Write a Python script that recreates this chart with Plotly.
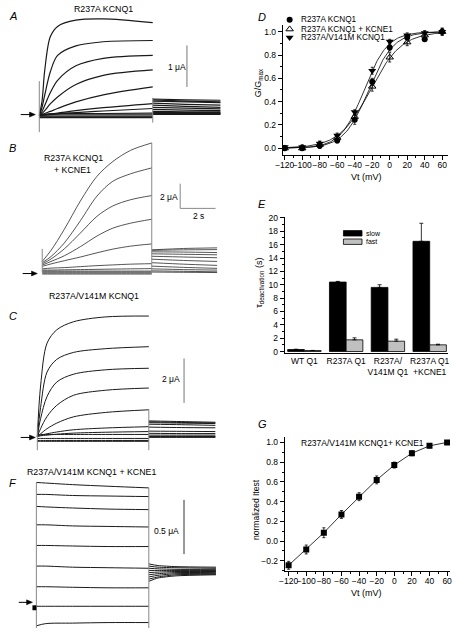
import numpy as np
import plotly.graph_objects as go

W, H = 453, 632
FONT = "Liberation Sans, Arial, Helvetica, sans-serif"

# ================= DATA =================
T_END = 6.2      # test pulse end (s)
T_TAIL = 9.9     # tail end (s)

# --- Panel A: R237A KCNQ1 (uA) ---
A_t = [0, 0.15, 0.3, 0.6, 1.0, 2.0, 3.5, 6.2]
A_I = [
    [0, 0.35, 1.10, 1.90, 2.15, 2.30, 2.33, 2.24],
    [0, 0.20, 0.50, 1.05, 1.45, 1.68, 1.78, 1.81],
    [0, 0.10, 0.25, 0.55, 0.85, 1.20, 1.38, 1.45],
    [0, 0.05, 0.12, 0.28, 0.45, 0.75, 0.97, 1.10],
    [0, 0.02, 0.05, 0.10, 0.17, 0.33, 0.50, 0.69],
    [0, 0.01, 0.02, 0.04, 0.06, 0.12, 0.19, 0.29],
    [0, 0.01, 0.01, 0.02, 0.04, 0.07, 0.11, 0.17],
    [0, 0.02, 0.03, 0.04, 0.05, 0.05, 0.05, 0.06],
    [0.02, 0.02, 0.02, 0.02, 0.02, 0.02, 0.02, 0.02],
    [-0.01, -0.01, -0.01, -0.01, -0.01, -0.01, -0.01, -0.01],
    [-0.03, -0.03, -0.03, -0.03, -0.03, -0.03, -0.03, -0.03],
    [-0.05, -0.05, -0.05, -0.05, -0.05, -0.05, -0.05, -0.05],
]
A_tail_t = [6.2, 8.0, 9.9]
A_tail_I = [
    [0.40, 0.38, 0.37], [0.38, 0.35, 0.33], [0.35, 0.33, 0.31],
    [0.30, 0.27, 0.25], [0.25, 0.22, 0.20], [0.20, 0.18, 0.16],
    [0.15, 0.13, 0.12], [0.10, 0.09, 0.09], [0.07, 0.07, 0.07],
    [0.05, 0.05, 0.05], [0.04, 0.04, 0.04], [0.03, 0.03, 0.03],
]
A_trans = [[0, 0.83, -0.40], [6.2, 0.43, -0.17]]   # (time, top, bottom)

# --- Panel B: R237A KCNQ1 + KCNE1 (uA) ---
B_t = [0, 0.5, 1.25, 2.16, 3.1, 4.0, 5.0, 6.2]
B_I = [
    [0.9, 1.8, 3.5, 5.8, 7.8, 9.0, 9.9, 10.5],
    [0.8, 1.3, 2.4, 4.2, 6.2, 7.4, 8.0, 8.48],
    [0.7, 1.1, 1.92, 3.2, 4.56, 5.4, 5.9, 6.24],
    [0.6, 0.9, 1.36, 2.1, 2.96, 3.6, 4.0, 4.32],
    [0.5, 0.7, 0.96, 1.26, 1.6, 1.9, 2.14, 2.32],
    [0.3, 0.36, 0.4, 0.48, 0.56, 0.62, 0.68, 0.72],
    [0.2, 0.2, 0.22, 0.24, 0.26, 0.28, 0.3, 0.32],
    [0.12, 0.12, 0.12, 0.12, 0.12, 0.12, 0.12, 0.12],
    [0.04, 0.04, 0.04, 0.04, 0.04, 0.04, 0.04, 0.04],
    [-0.04, -0.04, -0.04, -0.04, -0.04, -0.04, -0.04, -0.04],
    [-0.12, -0.12, -0.12, -0.12, -0.12, -0.12, -0.12, -0.12],
]
B_tail_t = [6.2, 8.0, 9.9]
B_tail_I = [
    [1.84, 1.95, 2.0], [1.8, 1.84, 1.86], [1.68, 1.66, 1.62],
    [1.52, 1.48, 1.44], [1.32, 1.26, 1.2], [1.08, 0.98, 0.9],
    [0.8, 0.68, 0.58], [0.52, 0.42, 0.34], [0.3, 0.24, 0.2],
    [0.14, 0.1, 0.06], [0.04, 0.02, 0.0],
]
B_trans = [[0, 1.92, 0.0], [6.2, 10.5, 0.0]]

# --- Panel C: R237A/V141M KCNQ1 (uA) ---
C_t = [0, 0.18, 0.54, 1.08, 2.0, 3.78, 6.2]
C_I = [
    [0, 2.27, 4.2, 4.8, 5.16, 5.38, 5.42],
    [0, 1.3, 2.9, 3.47, 3.78, 3.95, 4.04],
    [0, 0.8, 1.8, 2.45, 2.8, 3.0, 3.07],
    [0, 0.35, 0.9, 1.4, 1.85, 2.08, 2.18],
    [0, 0.12, 0.35, 0.6, 0.88, 1.08, 1.2],
    [0, 0.05, 0.12, 0.2, 0.3, 0.38, 0.44],
    [0, 0.03, 0.06, 0.1, 0.15, 0.19, 0.22],
    [0.09, 0.09, 0.09, 0.09, 0.09, 0.09, 0.09],
    [-0.09, -0.09, -0.09, -0.09, -0.09, -0.09, -0.09],
    [-0.18, -0.18, -0.18, -0.18, -0.18, -0.18, -0.18],
    [-0.22, -0.22, -0.22, -0.22, -0.22, -0.22, -0.22],
]
C_tail_t = [6.2, 8.0, 9.9]
C_tail_I = [
    [0.70, 0.67, 0.64], [0.66, 0.63, 0.61], [0.62, 0.60, 0.58],
    [0.55, 0.53, 0.50], [0.42, 0.40, 0.39], [0.24, 0.23, 0.22],
    [0.14, 0.13, 0.13], [0.06, 0.06, 0.06], [0.0, 0.0, 0.0],
    [-0.02, -0.02, -0.02], [-0.04, -0.04, -0.04],
]
C_trans = [[0, 0.44, -0.62], [6.2, 1.24, -0.62]]

# --- Panel F: R237A/V141M KCNQ1 + KCNE1 (uA) ---
F_t = [0, 0.5, 2.0, 4.0, 6.2]
F_I = [
    [1.14, 1.135, 1.12, 1.105, 1.09],
    [1.03, 1.03, 1.02, 1.015, 1.01],
    [0.92, 0.915, 0.905, 0.895, 0.89],
    [0.75, 0.75, 0.74, 0.735, 0.73],
    [0.56, 0.56, 0.555, 0.55, 0.55],
    [0.37, 0.37, 0.36, 0.355, 0.35],
    [0.18, 0.18, 0.175, 0.17, 0.17],
    [0.0, 0.0, 0.0, 0.0, 0.0],
    [-0.18, -0.16, -0.155, -0.15, -0.15],
]
F_tail_t = [6.2, 6.7, 7.7, 9.9]
F_tail_I = [
    [0.39, 0.375, 0.365, 0.36], [0.37, 0.36, 0.355, 0.35],
    [0.35, 0.345, 0.34, 0.34], [0.33, 0.33, 0.33, 0.33],
    [0.31, 0.315, 0.32, 0.32], [0.29, 0.30, 0.31, 0.31],
    [0.27, 0.285, 0.30, 0.30], [0.25, 0.27, 0.29, 0.295],
    [0.23, 0.26, 0.28, 0.29],
]
F_trans = [[0, 1.14, -0.2], [6.2, 1.09, -0.2]]

# --- Panel D: G/Gmax vs Vt ---
D_V = [-120, -100, -80, -60, -40, -20, 0, 20, 40, 60]
D_names = ["R237A KCNQ1", "R237A KCNQ1 + KCNE1", "R237A/V141M KCNQ1"]
D_G = [
    [0.0, 0.0, 0.02, 0.065, 0.245, 0.57, 0.865, 0.95, 0.935, 1.0],
    [0.0, 0.0, 0.03, 0.09, 0.27, 0.53, 0.78, 0.91, 0.97, 1.0],
    [0.01, 0.01, 0.04, 0.11, 0.31, 0.665, 0.915, 0.97, 0.99, 1.0],
]
D_err = [
    [0.02, 0.02, 0.02, 0.02, 0.04, 0.03, 0.03, 0.02, 0.01, 0.02],
    [0.02, 0.02, 0.03, 0.03, 0.04, 0.04, 0.04, 0.03, 0.03, 0.03],
    [0.01, 0.02, 0.02, 0.02, 0.02, 0.03, 0.02, 0.02, 0.02, 0.03],
]
D_fit_v12 = [-24.0, -22.1, -29.2]   # Boltzmann fit parameters
D_fit_k = [14.2, 17.9, 13.5]

# --- Panel E: deactivation time constants ---
E_cats = ["WT Q1", "R237A Q1", "R237A/<br>V141M Q1", "R237A Q1<br>+KCNE1"]
E_slow = [0.3, 10.4, 9.6, 16.5]
E_slow_err = [0.05, 0.1, 0.4, 2.7]
E_fast = [0.15, 1.75, 1.55, 1.0]
E_fast_err = [0.02, 0.3, 0.3, 0.1]

# --- Panel G: normalized Itest ---
G_V = [-120, -100, -80, -60, -40, -20, 0, 20, 40, 60]
G_I = [-0.245, -0.085, 0.085, 0.27, 0.45, 0.62, 0.77, 0.89, 0.965, 1.0]
G_err = [0.04, 0.045, 0.05, 0.04, 0.04, 0.04, 0.03, 0.025, 0.02, 0.01]

# ================= LAYOUT HELPERS =================
def xdom(a, b):
    return [a / W, b / W]

def ydom(top, bottom):
    return [1 - bottom / H, 1 - top / H]

def px(x):
    return x / W

def py(y):
    return 1 - y / H

fig = go.Figure()
layout = dict(width=W, height=H, margin=dict(l=0, r=0, t=0, b=0),
              paper_bgcolor="white", plot_bgcolor="rgba(0,0,0,0)",
              showlegend=False, font=dict(family=FONT, size=9, color="black"))
shapes, annots = [], []

def axn(k, a):
    return a if k == 1 else f"{a}{k}"

# trace panel geometry (pixels): t=0 px, t=T_END px, baseline px, px per uA, box
TRACE_PANELS = [
    dict(k=1, t0=32, t1=148, base=113, ppu=42.0, box=(5, 228, 0, 136),
         t=A_t, I=A_I, tt=A_tail_t, tI=A_tail_I, tr=A_trans, w=1.2, col="#1a1a1a"),
    dict(k=2, t0=35, t1=147, base=272, ppu=12.5, box=(5, 228, 136, 292),
         t=B_t, I=B_I, tt=B_tail_t, tI=B_tail_I, tr=B_trans, w=0.8, col="#2a2a2a"),
    dict(k=3, t0=30, t1=144, base=438, ppu=22.5, box=(5, 228, 300, 462),
         t=C_t, I=C_I, tt=C_tail_t, tI=C_tail_I, tr=C_trans, w=1.0, col="#1a1a1a"),
    dict(k=4, t0=29, t1=144, base=610, ppu=110.0, box=(5, 228, 478, 632),
         t=F_t, I=F_I, tt=F_tail_t, tI=F_tail_I, tr=F_trans, w=1.0, col="#1a1a1a"),
]

for P in TRACE_PANELS:
    k = P["k"]
    pps = (P["t1"] - P["t0"]) / T_END
    b = P["box"]
    xr = [(b[0] - P["t0"]) / pps, (b[1] - P["t0"]) / pps]
    yr = [(P["base"] - b[3]) / P["ppu"], (P["base"] - b[2]) / P["ppu"]]
    layout[axn(k, "xaxis")] = dict(domain=xdom(b[0], b[1]), range=xr, visible=False,
                                   anchor=axn(k, "y"), fixedrange=True)
    layout[axn(k, "yaxis")] = dict(domain=ydom(b[2], b[3]), range=yr, visible=False,
                                   anchor=axn(k, "x"), fixedrange=True)
    xa, ya = axn(k, "x"), axn(k, "y")
    for I in P["I"]:
        fig.add_trace(go.Scatter(x=P["t"], y=I, mode="lines", xaxis=xa, yaxis=ya,
                                 line=dict(color=P["col"], width=P["w"], shape="spline", smoothing=0.9),
                                 hoverinfo="skip"))
    for I in P["tI"]:
        fig.add_trace(go.Scatter(x=P["tt"], y=I, mode="lines", xaxis=xa, yaxis=ya,
                                 line=dict(color=P["col"], width=P["w"], shape="spline", smoothing=0.6),
                                 hoverinfo="skip"))
    for tr in P["tr"]:
        fig.add_trace(go.Scatter(x=[tr[0], tr[0]], y=[tr[1], tr[2]], mode="lines", xaxis=xa, yaxis=ya,
                                 line=dict(color="#888888", width=1), hoverinfo="skip"))

# scale bars (positions in each panel's own units)
SCALE_BARS = [
    dict(k=1, t=8.07, I0=0.69, dI=1.0, label="1 μA", lx=173, ly=64, col="#777"),
    dict(k=2, t=7.81, I0=5.2, dI=2.0, label="2 μA", lx=165, ly=195, col="#888", dt=2.0,
         tlabel="2 s", tlx=195, tly=215),
    dict(k=3, t=8.16, I0=1.51, dI=2.0, label="2 μA", lx=167, ly=380, col="#777"),
    dict(k=4, t=8.14, I0=0.48, dI=0.5, label="0.5 μA", lx=162, ly=534, col="#333"),
]
for S in SCALE_BARS:
    xa, ya = axn(S["k"], "x"), axn(S["k"], "y")
    shapes.append(dict(type="line", xref=xa, yref=ya, x0=S["t"], x1=S["t"],
                       y0=S["I0"], y1=S["I0"] + S["dI"], line=dict(color=S["col"], width=1)))
    annots.append(dict(text=S["label"], x=px(S["lx"]), y=py(S["ly"]), xref="paper", yref="paper",
                       showarrow=False, font=dict(size=8.5), xanchor="center", yanchor="middle"))
    if "dt" in S:
        shapes.append(dict(type="line", xref=xa, yref=ya, x0=S["t"], x1=S["t"] + S["dt"],
                           y0=S["I0"], y1=S["I0"], line=dict(color=S["col"], width=1)))
        annots.append(dict(text=S["tlabel"], x=px(S["tlx"]), y=py(S["tly"]), xref="paper", yref="paper",
                           showarrow=False, font=dict(size=8.5), xanchor="center", yanchor="middle"))

# arrows marking zero current (line + filled head, paper coords)
for (hx, hy, L) in [(28, 112, 15), (30, 273, 15), (28, 439, 15), (25, 606, 14)]:
    shapes.append(dict(type="line", xref="paper", yref="paper", x0=px(hx - L), x1=px(hx - 4),
                       y0=py(hy), y1=py(hy), line=dict(color="black", width=1)))
    shapes.append(dict(type="path", xref="paper", yref="paper",
                       path=f"M {px(hx)},{py(hy)} L {px(hx - 6)},{py(hy - 2.5)} L {px(hx - 6)},{py(hy + 2.5)} Z",
                       fillcolor="black", line=dict(color="black", width=0.5)))
shapes.append(dict(type="rect", xref="paper", yref="paper", x0=px(25), x1=px(29), y0=py(614), y1=py(609),
                   fillcolor="black", line=dict(width=0)))

# trace panel titles
for (txt, x, y) in [("R237A KCNQ1", 98, 5), ("R237A KCNQ1", 67, 156), ("+ KCNE1", 66, 168),
                    ("R237A/V141M KCNQ1", 88, 296), ("R237A/V141M KCNQ1 + KCNE1", 85, 474)]:
    annots.append(dict(text=txt, x=px(x), y=py(y), xref="paper", yref="paper", showarrow=False,
                       font=dict(size=8.8), xanchor="center", yanchor="middle"))

# panel letters
for (txt, x, y) in [("A", 5, 12), ("B", 5, 146), ("C", 5, 316), ("F", 5, 485),
                    ("D", 260, 13), ("E", 260, 203), ("G", 260, 425)]:
    annots.append(dict(text=f"<i>{txt}</i>", x=px(x), y=py(y), xref="paper", yref="paper",
                       showarrow=False, font=dict(size=11), xanchor="center", yanchor="middle"))

def std_axis(**kw):
    d = dict(showline=True, linecolor="black", linewidth=1, ticks="outside", ticklen=4,
             tickwidth=1, tickcolor="black", showgrid=False, zeroline=False, tickangle=0,
             tickfont=dict(size=8.5), fixedrange=True)
    d.update(kw)
    return d

# ---------- Panel D ----------
layout["xaxis5"] = std_axis(domain=xdom(281, 450), range=[-122.2, 66.7], anchor="y5",
                            tickvals=list(range(-120, 61, 20)), ticklabelstandoff=-2,
                            ticklabeloverflow="allow",
                            minor=dict(ticks="outside", ticklen=2, dtick=10, tickcolor="black"))
layout["yaxis5"] = std_axis(domain=ydom(21, 153), range=[-0.059, 1.06], anchor="x5",
                            tickvals=[0, 0.2, 0.4, 0.6, 0.8, 1.0], tickformat=".1f",
                            minor=dict(ticks="outside", ticklen=2, dtick=0.1, tickcolor="black"))
D_sym = [dict(symbol="circle", size=6, color="black"),
         dict(symbol="triangle-up-open", size=6.5, color="black", line=dict(width=1, color="black")),
         dict(symbol="triangle-down", size=7, color="black")]
vfit = np.linspace(-120, 60, 181)
for i in range(3):
    g = 1.0 / (1.0 + np.exp((D_fit_v12[i] - vfit) / D_fit_k[i]))
    fig.add_trace(go.Scatter(x=vfit, y=g, mode="lines", xaxis="x5", yaxis="y5",
                             line=dict(color="black", width=0.8), hoverinfo="skip"))
for i in range(3):
    fig.add_trace(go.Scatter(x=D_V, y=D_G[i], mode="markers", xaxis="x5", yaxis="y5",
                             marker=D_sym[i], name=D_names[i],
                             error_y=dict(type="data", array=D_err[i], color="black", thickness=0.8, width=1.5)))
annots.append(dict(text="G/G<sub>max</sub>", x=px(257), y=py(80), xref="paper", yref="paper",
                   showarrow=False, textangle=-90, font=dict(size=9), xanchor="center", yanchor="middle"))
annots.append(dict(text="Vt (mV)", x=px(367), y=py(175), xref="paper", yref="paper",
                   showarrow=False, font=dict(size=9), xanchor="center", yanchor="middle"))

# canvas axis for legend symbols (pixel coordinates)
layout["xaxis8"] = dict(domain=[0, 1], range=[0, W], visible=False, anchor="y8", fixedrange=True)
layout["yaxis8"] = dict(domain=[0, 1], range=[H, 0], visible=False, anchor="x8", fixedrange=True)
LEG_D = [(288, 16), (288, 25.5), (288, 34)]
for i in range(3):
    fig.add_trace(go.Scatter(x=[LEG_D[i][0]], y=[LEG_D[i][1]], mode="markers", xaxis="x8", yaxis="y8",
                             marker=D_sym[i], hoverinfo="skip"))
    annots.append(dict(text=D_names[i], x=px(298), y=py(LEG_D[i][1]), xref="paper", yref="paper",
                       showarrow=False, font=dict(size=8.2), xanchor="left", yanchor="middle"))

# ---------- Panel E ----------
E_x = list(range(len(E_cats)))
layout["xaxis6"] = std_axis(domain=xdom(283, 450), range=[-0.47, 3.44], anchor="y6",
                            tickvals=E_x, ticktext=E_cats, ticks="", ticklen=0)
layout["yaxis6"] = std_axis(domain=ydom(216, 353), range=[-0.15, 20.1], anchor="x6",
                            tickvals=list(range(0, 21, 2)),
                            minor=dict(ticks="outside", ticklen=2, dtick=1, tickcolor="black"))
fig.add_trace(go.Bar(x=E_x, y=E_slow, width=0.4, offset=-0.4, xaxis="x6", yaxis="y6",
                     marker=dict(color="black", line=dict(color="black", width=0.8)),
                     error_y=dict(type="data", array=E_slow_err, arrayminus=[0] * 4,
                                  color="black", thickness=0.8, width=2)))
fig.add_trace(go.Bar(x=E_x, y=E_fast, width=0.4, offset=0.0, xaxis="x6", yaxis="y6",
                     marker=dict(color="#c0c0c0", line=dict(color="black", width=0.8)),
                     error_y=dict(type="data", array=E_fast_err, arrayminus=[0] * 4,
                                  color="black", thickness=0.8, width=2)))
shapes.append(dict(type="rect", xref="paper", yref="paper", x0=px(343), x1=px(362), y0=py(235), y1=py(229.5),
                   fillcolor="black", line=dict(color="black", width=0.8)))
shapes.append(dict(type="rect", xref="paper", yref="paper", x0=px(343), x1=px(362), y0=py(243.5), y1=py(238),
                   fillcolor="#c0c0c0", line=dict(color="black", width=0.8)))
annots.append(dict(text="slow", x=px(364), y=py(232), xref="paper", yref="paper", showarrow=False,
                   font=dict(size=7), xanchor="left", yanchor="middle"))
annots.append(dict(text="fast", x=px(364), y=py(241), xref="paper", yref="paper", showarrow=False,
                   font=dict(size=7), xanchor="left", yanchor="middle"))
annots.append(dict(text="τ<sub>deactivation</sub> (s)", x=px(257), y=py(282), xref="paper", yref="paper",
                   showarrow=False, textangle=-90, font=dict(size=9), xanchor="center", yanchor="middle"))

# ---------- Panel G ----------
layout["xaxis7"] = std_axis(domain=xdom(283, 452), range=[-124.4, 63.3], anchor="y7",
                            tickvals=list(range(-120, 61, 20)), ticklabelstandoff=-2,
                            ticklabeloverflow="allow",
                            minor=dict(ticks="outside", ticklen=2, dtick=10, tickcolor="black"))
layout["yaxis7"] = std_axis(domain=ydom(439, 574), range=[-0.3, 1.05], anchor="x7",
                            tickvals=[-0.2, 0, 0.2, 0.4, 0.6, 0.8, 1.0], tickformat=".1f",
                            minor=dict(ticks="outside", ticklen=2, dtick=0.1, tickcolor="black"))
fig.add_trace(go.Scatter(x=G_V, y=G_I, mode="lines+markers", xaxis="x7", yaxis="y7",
                         line=dict(color="black", width=0.8),
                         marker=dict(symbol="square", size=6, color="black"),
                         error_y=dict(type="data", array=G_err, color="black", thickness=0.8, width=1.5)))
annots.append(dict(text="R237A/V141M KCNQ1+ KCNE1", x=px(363), y=py(445), xref="paper", yref="paper",
                   showarrow=False, font=dict(size=8.5), xanchor="center", yanchor="middle"))
annots.append(dict(text="normalized Itest", x=px(253), y=py(512), xref="paper", yref="paper",
                   showarrow=False, textangle=-90, font=dict(size=8.5), xanchor="center", yanchor="middle"))
annots.append(dict(text="Vt (mV)", x=px(367), y=py(597), xref="paper", yref="paper",
                   showarrow=False, font=dict(size=9), xanchor="center", yanchor="middle"))

layout["shapes"] = shapes
layout["annotations"] = annots
layout["bargap"] = 0.2
fig.update_layout(**layout)
fig.write_html("out.html", config={"displayModeBar": False, "staticPlot": True},
               post_script="document.body.style.margin='0px';")
